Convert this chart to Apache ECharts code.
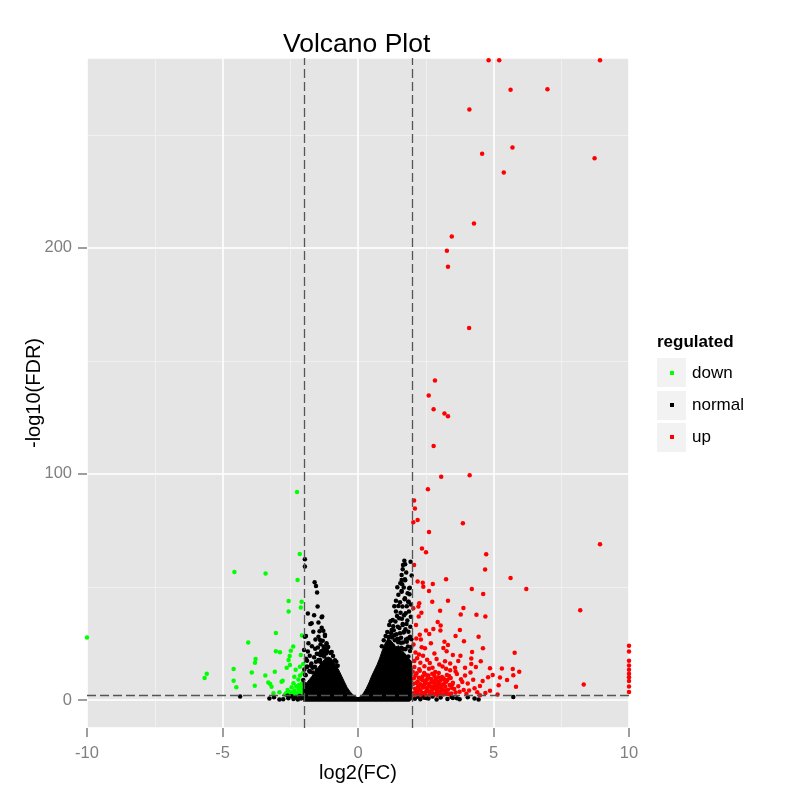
<!DOCTYPE html>
<html>
<head>
<meta charset="utf-8">
<title>Volcano Plot</title>
<script src="https://cdn.jsdelivr.net/npm/echarts@6/dist/echarts.min.js"></script>
<style>
  html, body { margin: 0; padding: 0; background: #fff; }
  #main { width: 800px; height: 800px; }
</style>
</head>
<body>
<div id="main"></div>
<script type="text/javascript">
// thresholds drawn as dashed lines
var fcCut = 2;
var fdrCut = 2;

var legendNames = ['down', 'normal', 'up'];

// points: [log2(FC), -log10(FDR)]
var downPoints = [
  [-10, 27.6], [-2.25, 92], [-4.56, 56.6], [-3.41, 55.9], [-2.15, 64.6], [-2.23, 53.1],
  [-2.56, 43.8], [-2.08, 43.4], [-2.56, 39.1], [-2.11, 40.9], [-3.03, 29.6], [-4.05, 25.4],
  [-2.07, 28.5], [-2.39, 23.6], [-3.03, 21.5], [-2.88, 21.1], [-2.48, 21.8], [-2.11, 19.9],
  [-2.52, 19.5], [-3.78, 18.1], [-3.80, 16.5], [-2.56, 17.7], [-2.51, 15.5], [-2.63, 14.3],
  [-2.30, 13.4], [-2.14, 14.7], [-2.02, 15.9], [-4.59, 13.7], [-3.92, 12.1], [-3.07, 12.5],
  [-5.58, 11.6], [-5.66, 9.7], [-4.59, 8.5], [-4.49, 5.6], [-3.42, 10.8], [-3.81, 6.3],
  [-3.31, 7.7], [-3.24, 7.1], [-3.19, 5.9], [-3.12, 3.0], [-2.90, 3.4], [-2.82, 8.1],
  [-2.78, 8.5], [-2.20, 9.1], [-2.35, 10.3], [-2.14, 10.8], [-2.04, 11.8],
  [-2.05, 2.5], [-2.10, 3.8], [-2.15, 2.2], [-2.20, 4.9], [-2.25, 3.1], [-2.30, 2.4],
  [-2.35, 4.2], [-2.40, 2.9], [-2.45, 5.6], [-2.50, 3.5], [-2.55, 2.6], [-2.60, 4.4],
  [-2.65, 3.0], [-2.70, 2.3], [-2.12, 5.9], [-2.08, 7.2], [-2.18, 6.6], [-2.28, 6.1],
  [-2.38, 7.4], [-2.03, 4.6], [-2.22, 2.8], [-2.48, 2.2]
];

var normalPoints = [
  [-1.96, 62.2], [-1.96, 59], [-1.60, 52.1], [-1.55, 50.4], [-1.51, 47.5], [-1.49, 41.3],
  [-1.34, 36.6], [-1.76, 33.6], [-1.34, 32], [-1.92, 28.3], [-1.46, 28], [-1.22, 28.3],
  [-1.83, 25.1], [-1.16, 24.3], [-1.40, 17.7], [-1.87, 14.7], [-1.59, 10.3], [-1.52, 20.4],
  [-1.25, 19.2], [-1.16, 21.8], [-1.06, 17.4], [-1.32, 36.9], [-1.71, 33.9], [-1.65, 30.2],
  [-1.96, 28], [-1.22, 28.8], [-1.40, 26.5], [-1.16, 25.1], [-1.28, 22.1], [-1.18, 20.6],
  [-1.46, 17.7], [-1.05, 17.7], [-1.89, 14.7], [-1.59, 14.7], [-1.34, 16.2], [-1.77, 12.5],
  [-1.46, 11], [-2.02, 8.8], [-1.65, 8.8], [-1.95, 11.2], [-1.72, 16.1], [-1.38, 19.8],
  [-1.92, 18.2], [-1.85, 21.4], [-1.78, 19.6], [-1.70, 23.8], [-1.68, 14.2], [-1.62, 18.9],
  [-1.57, 26.8], [-1.55, 16.9], [-1.48, 23.2], [-1.45, 20.3], [-1.42, 30.4], [-1.38, 24.6],
  [-1.36, 21.5], [-1.30, 26.2], [-1.27, 23.7], [-1.20, 22.9], [-1.13, 21.5], [-1.10, 23.4],
  [-1.02, 20.8], [-0.97, 21.2], [-0.92, 19.4], [-0.85, 17.6], [-0.80, 16.9], [-0.75, 15.1],
  [-1.98, 13.5], [-1.93, 10.9], [-1.80, 12.8], [-1.74, 15.3], [-1.66, 12.2], [-1.52, 13.3],
  [-1.44, 17.1], [-1.33, 19.9], [-1.26, 21.2], [-1.88, 17.3], [-1.99, 22.1], [-1.58, 22.7],
  [-1.62, 37.5], [-1.85, 38.2], [-1.46, 34.3], [-1.28, 30.6],
  [-4.35, 1.5], [-3.27, 0.7], [-2.76, 0.3], [-2.57, 0.8], [-2.45, 1.6], [-2.38, 0.4],
  [-2.30, 1.1], [-2.22, 0.2], [-2.15, 1.8], [-2.10, 0.6], [-2.05, 1.3], [-2.60, 1.9],
  [-2.90, 0.2], [-3.10, 1.2],
  [1.71, 61.6], [1.66, 59.7], [1.61, 55.3], [1.73, 53.4], [1.56, 51.6], [1.91, 49.7],
  [1.61, 47.9], [1.49, 46.5], [1.73, 45], [1.87, 43.5], [1.40, 43.9], [1.49, 41.6],
  [1.40, 39.1], [1.28, 35.4], [1.65, 33.2], [1.24, 31], [1.55, 29.5], [1.86, 30.2],
  [1.18, 28], [1.65, 57.8], [1.74, 60], [1.61, 53.1], [1.74, 53], [1.89, 49.4],
  [1.61, 48.2], [1.85, 43.5], [1.65, 33.6], [1.79, 33.6], [1.70, 30.2], [1.80, 25.8],
  [1.92, 28], [1.68, 22.5], [1.86, 19.2], [1.34, 28.6], [1.45, 27.1], [1.96, 23.4],
  [1.52, 36.2], [1.76, 38.4], [1.95, 36.8], [1.30, 32.6], [1.84, 27.2], [1.58, 25.3],
  [0.88, 23.8], [0.95, 26.4], [1.02, 28.3], [1.08, 30.1], [1.12, 27.9], [1.15, 33.2],
  [1.22, 29.6], [1.26, 27.6], [1.32, 30.8], [1.36, 26.4], [1.38, 34.7], [1.42, 29.1],
  [1.44, 37.2], [1.47, 32.4], [1.50, 26.9], [1.53, 31.8], [1.57, 38.6], [1.59, 27.5],
  [1.62, 35.9], [1.64, 41.3], [1.66, 25.4], [1.68, 29.8], [1.70, 37.5], [1.72, 44.6],
  [1.75, 31.3], [1.77, 26.7], [1.80, 41.5], [1.82, 35.2], [1.84, 23.6], [1.88, 39.1],
  [1.90, 46.8], [1.93, 32.4], [1.95, 42.2], [1.97, 26.9], [1.63, 51.2], [1.78, 56.4],
  [1.83, 47.2], [1.69, 49.8], [1.55, 43.2], [1.98, 55.1], [1.94, 61.2], [1.34, 41.5],
  [1.45, 49.9], [1.20, 34.8], [1.92, 21.7], [1.75, 22.4], [1.60, 23.1], [1.48, 25.5],
  [1.28, 24.1],
  [2.10, 0.5], [2.20, 1.4], [2.30, 0.3], [2.45, 1.0], [2.60, 0.6], [2.75, 1.5],
  [2.90, 0.2], [3.05, 1.1], [3.30, 0.4], [3.45, 1.3], [3.65, 0.8], [3.75, 0.3],
  [4.05, 1.2], [4.30, 0.6], [4.45, 0.2], [5.73, 1.3], [3.50, 0.9], [2.38, 1.8], [2.52, 0.9]
];

// solid black core of the volcano (upper edge of the dense region)
var normalCore = [
  [-2.02, 0], [-2.02, 8], [-1.9, 7.5], [-1.8, 9], [-1.7, 10.5], [-1.6, 12], [-1.5, 14],
  [-1.4, 15.5], [-1.3, 17], [-1.2, 18.5], [-1.1, 19], [-1.0, 18.5], [-0.9, 17], [-0.8, 15],
  [-0.7, 13], [-0.6, 10.5], [-0.5, 8], [-0.4, 5.5], [-0.3, 3.8], [-0.2, 2.4], [-0.1, 1.5],
  [0, 1], [0.1, 1.5], [0.2, 3], [0.3, 5], [0.4, 7.5], [0.5, 10.5], [0.6, 13], [0.7, 15.5],
  [0.8, 18.5], [0.9, 22], [1.0, 25], [1.1, 27], [1.2, 26.5], [1.3, 25], [1.4, 23.5],
  [1.5, 24], [1.6, 22], [1.7, 21], [1.8, 19.5], [1.9, 18], [1.98, 17], [1.98, 0]
];

var upPoints = [
  [4.82, 283], [5.21, 283], [8.93, 283], [5.63, 269.9], [6.99, 270.2], [4.11, 261.2],
  [4.58, 241.6], [5.70, 244.4], [8.73, 239.7], [5.38, 233.3], [4.28, 210.8], [3.46, 205],
  [3.28, 198.7], [3.32, 191.6], [4.10, 164.5], [2.84, 141.3], [2.61, 134.7], [2.79, 128.6],
  [3.19, 126.7], [3.32, 125.5], [2.79, 112.4], [4.12, 99.4], [3.07, 98.7], [2.58, 93.2],
  [2.07, 88.2], [2.10, 84.7], [2.20, 79.6], [2.04, 78.6], [3.87, 78.2], [2.62, 74.3],
  [8.93, 68.9], [2.36, 67], [2.51, 65.3], [4.73, 64.5], [2.07, 59.7], [4.69, 57.7],
  [3.25, 53.4], [5.63, 54], [6.21, 49.1], [2.20, 52.4], [2.39, 51.9], [2.41, 50.1],
  [2.76, 51.3], [2.62, 48.2], [4.20, 49.1], [4.62, 46.9], [2.74, 43.5], [3.32, 43.9],
  [2.26, 42.8], [2.23, 41.3], [2.04, 40.6], [3.03, 39.5], [3.89, 40.7], [8.20, 39.7],
  [2.34, 38.6], [3.79, 37.8], [4.37, 37.7], [4.70, 36.9], [2.24, 36.9], [2.94, 34.5],
  [2.14, 33.2], [3.05, 32.9], [3.76, 31], [2.51, 30.7], [2.78, 31.4], [3.04, 30.7],
  [2.28, 28.8], [2.63, 29.2], [4.45, 28], [3.60, 28.3], [3.91, 26], [3.19, 25.8],
  [2.32, 26.8], [2.69, 25.1], [3.32, 24.3], [4.61, 22.9], [5.78, 20.9], [3.15, 23],
  [2.47, 22.9], [2.82, 20.6], [4.21, 21.2], [3.27, 21.5], [3.78, 19.6], [4.18, 18.4],
  [4.53, 17.1], [3.21, 17.1], [4.18, 15.9], [4.87, 14], [5.31, 13.9], [5.71, 13.7],
  [5.95, 12.5], [5.73, 10.9], [4.97, 11.1], [5.24, 9.9], [5.50, 8.8], [5.19, 6.5],
  [5.83, 5.8], [4.87, 4.1], [8.33, 6.8], [5.15, 2.4], [4.50, 2.1],
  [10, 24], [10, 21.4], [10, 17.3], [10, 15.2], [10, 13.4], [10, 11.6], [10, 10],
  [10, 8.4], [10, 6], [10, 3.5],
  [2.05, 24.5], [2.12, 21], [2.18, 18.5], [2.08, 17.2], [2.25, 20.1], [2.30, 16.5],
  [2.40, 19.6], [2.55, 17.8], [2.65, 16.3], [2.45, 14.9], [2.35, 23.3], [2.15, 27.2],
  [2.90, 18.1], [3.00, 15.7], [2.75, 14.2], [3.40, 16.1], [3.50, 19.9], [3.70, 17.2],
  [3.95, 14.3], [3.60, 12.6], [3.25, 13.8],
  [2.05, 3], [2.10, 5], [2.15, 7.5], [2.20, 2.6], [2.25, 9.8], [2.30, 4.2], [2.35, 6.4],
  [2.40, 8.7], [2.45, 3.1], [2.50, 11.2], [2.55, 5.3], [2.60, 7.1], [2.65, 2.4], [2.70, 9.3],
  [2.75, 4.6], [2.80, 6.2], [2.85, 12.4], [2.90, 3.5], [2.95, 8.1], [3.00, 5.7], [3.05, 2.8],
  [3.10, 10.2], [3.15, 6.9], [3.20, 4.1], [3.30, 8.8], [3.35, 2.5], [3.40, 13.1], [3.45, 5.4],
  [3.50, 7.6], [3.60, 3.3], [3.65, 11.5], [3.70, 6.1], [3.80, 9.2], [3.90, 4.4], [4.00, 2.7],
  [4.05, 7.3], [4.15, 12.2], [4.30, 5.2], [4.40, 3.4], [4.60, 8.4],
  [2.02, 12.5], [2.08, 14.6], [2.12, 10.8], [2.18, 4.1], [2.22, 6], [2.28, 12.9], [2.32, 2.3],
  [2.38, 10.4], [2.42, 5.8], [2.48, 7.8], [2.52, 3.9], [2.58, 9.9], [2.62, 13.8], [2.68, 5.9],
  [2.72, 3.2], [2.78, 8], [2.82, 10.6], [2.88, 5], [2.92, 2.2], [2.98, 11.9], [3.02, 7],
  [3.08, 4.3], [3.12, 14.8], [3.18, 8.9], [3.25, 3], [3.28, 11.1], [3.38, 6.6], [3.42, 9.7],
  [3.55, 4.9], [3.58, 14.2], [3.75, 3.6], [3.85, 7.9], [3.95, 10.8], [4.10, 4.2], [4.25, 9],
  [4.35, 14.6], [4.50, 6.2], [4.70, 3.1], [4.80, 10],
  [2.04, 7.2], [2.06, 9.6], [2.10, 2.2], [2.14, 3.6], [2.16, 11.8], [2.20, 8.2], [2.24, 5.1],
  [2.26, 13.6], [2.30, 7], [2.34, 9.1], [2.36, 3.2], [2.40, 5.5], [2.44, 11.9], [2.46, 6.9],
  [2.50, 2.3], [2.54, 8.9], [2.56, 4.5], [2.60, 10.8], [2.64, 6.4], [2.66, 3.7], [2.70, 7.8],
  [2.74, 11.6], [2.76, 5.4], [2.80, 2.6], [2.84, 7.4], [2.86, 9.2], [2.90, 6.6], [2.94, 4.3],
  [2.96, 10], [3.00, 3.3], [3.04, 8.6], [3.06, 6.2], [3.10, 4.8], [3.14, 2.4], [3.16, 9.5],
  [3.22, 5.9], [3.24, 7.8], [3.32, 4.5], [3.36, 10.6], [3.44, 2.9], [3.48, 6.8]
];

var font = 'Liberation Sans, Arial, sans-serif';
var chart = echarts.init(document.getElementById('main'));

chart.setOption({
  backgroundColor: '#ffffff',
  animation: false,
  title: [
    { text: 'Volcano Plot', left: 283, top: 31, padding: 0,
      textStyle: { fontFamily: font, fontSize: 26.5, fontWeight: 'normal', color: '#000' } },
    { text: 'regulated', left: 657, top: 334, padding: 0,
      textStyle: { fontFamily: font, fontSize: 17, fontWeight: 'bold', color: '#000' } }
  ],
  legend: {
    data: legendNames,
    orient: 'vertical',
    left: 670,
    top: 364.5,
    padding: 0,
    itemGap: 15,
    itemWidth: 4,
    itemHeight: 4,
    icon: 'rect',
    selectedMode: false,
    textStyle: { fontFamily: font, fontSize: 17, color: '#000', padding: [0, 0, 0, 13] }
  },
  graphic: [
    { type: 'rect', left: 657, top: 358, z: -1, shape: { width: 29, height: 29 }, style: { fill: '#f2f2f2' } },
    { type: 'rect', left: 657, top: 391, z: -1, shape: { width: 29, height: 29 }, style: { fill: '#f2f2f2' } },
    { type: 'rect', left: 657, top: 423, z: -1, shape: { width: 29, height: 29 }, style: { fill: '#f2f2f2' } }
  ],
  grid: {
    left: 87, top: 58, width: 542, height: 670,
    show: true, backgroundColor: '#e5e5e5', borderWidth: 0
  },
  xAxis: {
    type: 'value',
    min: -10, max: 10, interval: 5,
    name: 'log2(FC)',
    nameLocation: 'middle',
    nameGap: 35,
    nameMoveOverlap: false,
    nameTextStyle: { fontFamily: font, fontSize: 20, color: '#000' },
    axisLine: { show: false, onZero: false },
    axisTick: { show: true, length: 9, lineStyle: { color: '#7f7f7f', width: 1.5 } },
    axisLabel: { margin: 17, fontFamily: font, fontSize: 16.5, color: '#7f7f7f' },
    splitLine: { show: true, lineStyle: { color: '#ffffff', width: 1.6 } },
    minorTick: { show: false, splitNumber: 2 },
    minorSplitLine: { show: true, lineStyle: { color: '#f2f2f2', width: 0.8 } }
  },
  yAxis: {
    type: 'value',
    min: -12.4, max: 284, splitNumber: 3,
    name: '-log10(FDR)',
    nameLocation: 'middle',
    nameRotate: 90,
    nameGap: 43,
    nameMoveOverlap: false,
    nameTextStyle: { fontFamily: font, fontSize: 20, color: '#000' },
    axisLine: { show: false, onZero: false },
    axisTick: { show: true, length: 9, lineStyle: { color: '#7f7f7f', width: 1.5 } },
    axisLabel: { margin: 15, fontFamily: font, fontSize: 16.5, color: '#7f7f7f',
                 showMinLabel: false, showMaxLabel: false },
    splitLine: { show: true, lineStyle: { color: '#ffffff', width: 1.6 } },
    minorTick: { show: false, splitNumber: 2 },
    minorSplitLine: { show: true, lineStyle: { color: '#f2f2f2', width: 0.8 } }
  },
  series: [
    {
      name: 'normal',
      type: 'line',
      data: normalCore,
      showSymbol: false,
      symbol: 'none',
      lineStyle: { width: 1, color: '#000' },
      itemStyle: { color: '#000' },
      areaStyle: { color: '#000', opacity: 1, origin: -0.8 }
    },
    {
      name: 'down', type: 'scatter', data: downPoints,
      symbolSize: 4.5, itemStyle: { color: '#00ff00', opacity: 1 }
    },
    {
      name: 'normal', type: 'scatter', data: normalPoints,
      symbolSize: 4.5, itemStyle: { color: '#000000', opacity: 1 }
    },
    {
      name: 'up', type: 'scatter', data: upPoints,
      symbolSize: 4.5, itemStyle: { color: '#ff0000', opacity: 1 },
      markLine: {
        silent: true,
        symbol: ['none', 'none'],
        label: { show: false },
        lineStyle: { color: '#555555', type: [9, 4], width: 1.3 },
        data: [{ xAxis: -fcCut }, { xAxis: fcCut }, { yAxis: fdrCut }]
      }
    }
  ]
});
</script>
</body>
</html>
